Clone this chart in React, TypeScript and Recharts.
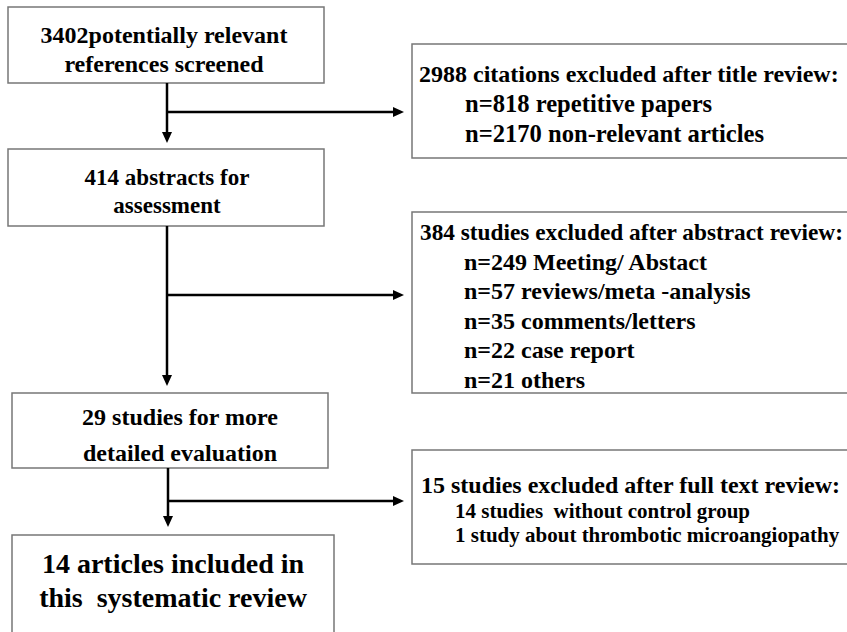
import {
  ReferenceArea,
  ReferenceLine,
  Scatter,
  ScatterChart,
  XAxis,
  YAxis,
} from "recharts";

const W = 847;
const H = 632;

// main flow (left column), top to bottom
const flowLabels = [
  ["3402potentially relevant", "references screened"],
  ["414 abstracts for", "assessment"],
  ["29 studies for more", "detailed evaluation"],
  ["14 articles included in", "this  systematic review"],
];
const flowTop = [7, 149, 393, 535];
const flowBottom = [83, 226, 468, 640];
const flowLeft = [8, 8, 12, 12];
const flowRight = [324, 324, 328, 334];

// exclusion boxes (right column)
const excludedHeads = [
  "2988 citations excluded after title review:",
  "384 studies excluded after abstract review:",
  "15 studies excluded after full text review:",
];
const excludedItems = [
  ["n=818 repetitive papers", "n=2170 non-relevant articles"],
  [
    "n=249 Meeting/ Abstact",
    "n=57 reviews/meta -analysis",
    "n=35 comments/letters",
    "n=22 case report",
    "n=21 others",
  ],
  ["14 studies  without control group", "1 study about thrombotic microangiopathy"],
];
const excludedTop = [44, 212, 450];
const excludedBottom = [158, 393, 564];
const excludedLeft = 412;
const excludedRight = 852;

// connectors
const trunkX = [167, 167, 168];
const branchY = [112, 295, 501];
const downTipY = [143, 386, 527];
const sideTipX = 404;

const FONT = "Liberation Serif, DejaVu Serif, serif";

// text layout per box
const flowFont = [24, 23, 24, 28];
const flowCenter = [164, 167, 180, 173];
const flowFirst = [36, 36, 32, 38];
const flowLeading = [29, 28, 36, 34];

const headFont = [24, 23.3, 24];
const itemFont = [24.6, 24, 21];
const headInset = [7, 8, 9];
const itemInset = [53, 52, 43];
const headFirst = [38, 28, 43];
const itemLeading = [30, 29.6, 24.5];

interface ViewBox {
  x: number;
  y: number;
  width: number;
  height: number;
}

const arrowTips = [
  ...trunkX.map((x, i) => ({ x, y: downTipY[i], dir: "down" })),
  ...branchY.map((y) => ({ x: sideTipX, y, dir: "right" })),
];

function Arrowhead(props: any) {
  const { cx, cy, payload } = props;
  const pts =
    payload.dir === "down"
      ? `${cx - 5},${cy - 11} ${cx + 5},${cy - 11} ${cx},${cy}`
      : `${cx - 11},${cy - 5} ${cx - 11},${cy + 5} ${cx},${cy}`;
  return <polygon points={pts} fill="#000" />;
}

function flowText(i: number) {
  return (p: any) => {
    const vb = p.viewBox as ViewBox;
    return (
      <g fontFamily={FONT} fontWeight="bold" fill="#000">
        {flowLabels[i].map((t, k) => (
          <text
            key={k}
            x={flowCenter[i]}
            y={vb.y + flowFirst[i] + k * flowLeading[i]}
            textAnchor="middle"
            fontSize={flowFont[i]}
            xmlSpace="preserve"
          >
            {t}
          </text>
        ))}
      </g>
    );
  };
}

function excludedText(i: number) {
  return (p: any) => {
    const vb = p.viewBox as ViewBox;
    const base = vb.y + headFirst[i];
    return (
      <g fontFamily={FONT} fontWeight="bold" fill="#000">
        <text x={vb.x + headInset[i]} y={base} fontSize={headFont[i]}>
          {excludedHeads[i]}
        </text>
        {excludedItems[i].map((t, k) => (
          <text
            key={k}
            x={vb.x + itemInset[i]}
            y={base + (k + 1) * itemLeading[i]}
            fontSize={itemFont[i]}
            xmlSpace="preserve"
          >
            {t}
          </text>
        ))}
      </g>
    );
  };
}

export default function App() {
  return (
    <div style={{ position: "absolute", left: 0, top: 0, background: "#fff" }}>
      <ScatterChart
        width={W}
        height={H}
        margin={{ top: 0, right: 0, bottom: 0, left: 0 }}
      >
        <XAxis type="number" dataKey="x" domain={[0, W]} hide />
        <YAxis type="number" dataKey="y" domain={[0, H]} reversed hide />

        {flowLabels.map((_, i) => (
          <ReferenceArea
            key={`f${i}`}
            x1={flowLeft[i]}
            x2={flowRight[i]}
            y1={flowTop[i]}
            y2={flowBottom[i]}
            fill="#fff"
            fillOpacity={1}
            stroke="#777"
            strokeWidth={1.5}
            ifOverflow="visible"
            label={flowText(i)}
          />
        ))}

        {excludedHeads.map((_, i) => (
          <ReferenceArea
            key={`e${i}`}
            x1={excludedLeft}
            x2={excludedRight}
            y1={excludedTop[i]}
            y2={excludedBottom[i]}
            fill="#fff"
            fillOpacity={1}
            stroke="#777"
            strokeWidth={1.5}
            ifOverflow="visible"
            label={excludedText(i)}
          />
        ))}

        {trunkX.map((x, i) => (
          <ReferenceLine
            key={`t${i}`}
            segment={[
              { x, y: flowBottom[i] },
              { x, y: downTipY[i] - 8 },
            ]}
            stroke="#000"
            strokeWidth={2.5}
            ifOverflow="visible"
          />
        ))}
        {branchY.map((y, i) => (
          <ReferenceLine
            key={`b${i}`}
            segment={[
              { x: trunkX[i], y },
              { x: sideTipX - 8, y },
            ]}
            stroke="#000"
            strokeWidth={2.5}
            ifOverflow="visible"
          />
        ))}

        <Scatter
          data={arrowTips}
          shape={Arrowhead}
          isAnimationActive={false}
        />
      </ScatterChart>
    </div>
  );
}
